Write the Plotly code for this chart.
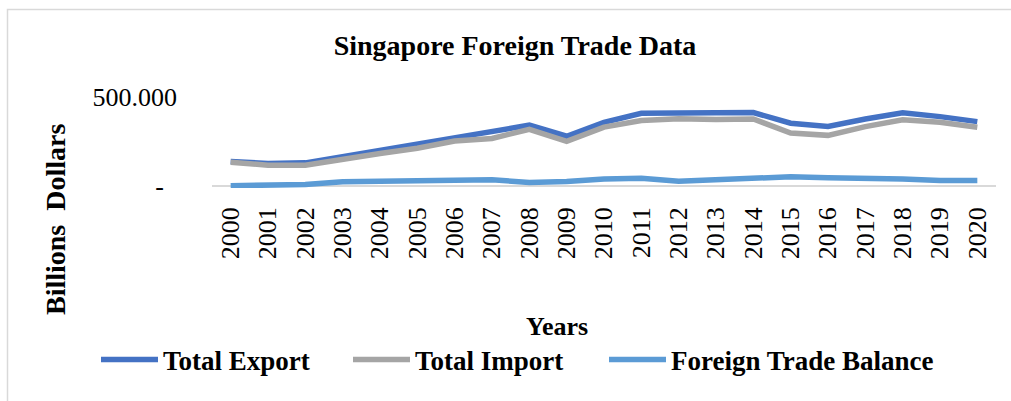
import plotly.graph_objects as go

years = [str(y) for y in range(2000, 2021)]
total_export = [139, 127, 131, 166, 205, 236, 277, 307, 342, 280, 358, 409, 409, 410, 413, 353, 335, 377, 411, 390, 362]
total_import = [134, 118, 118, 147, 183, 213, 253, 268, 319, 251, 331, 368, 378, 374, 377, 298, 285, 334, 372, 359, 331]
trade_balance = [3, 5, 9, 25, 27, 31, 33, 36, 21, 26, 41, 45, 28, 37, 39, 53, 47, 45, 41, 32, 32]

y_tickvals = [0, 500]
y_ticktext = ["-\u00a0\u00a0", "500.000"]

W, H = 1011, 401
L, R, T, B = 212, 15, 97, 213

fig = go.Figure()
series = [
    ("<b>Total Export</b>", total_export, "#4472C4", 180),
    ("<b>Total Import</b>", total_import, "#A5A5A5", 184),
    ("<b>Foreign Trade Balance</b>", trade_balance, "#5B9BD5", None),
]
for name, vals, col, lw in series:
    tr = go.Scatter(x=years, y=vals, name=name, mode="lines",
                    line=dict(color=col, width=5.5))
    if lw:
        tr.legendwidth = lw
    fig.add_trace(tr)

serif = "Liberation Serif"

def px_to_paper_x(px):
    return (px - L) / (W - L - R)

def px_to_paper_y(py):
    return (H - B - py) / (H - T - B)

fig.update_layout(
    width=W, height=H,
    margin=dict(l=L, r=R, t=T, b=B, autoexpand=False),
    paper_bgcolor="white", plot_bgcolor="white",
    font=dict(family=serif, size=26, color="black"),
    title=dict(text="<b>Singapore Foreign Trade Data</b>",
               xref="container", yref="container",
               x=515 / W, y=1 - 45 / H, xanchor="center", yanchor="middle",
               font=dict(family=serif, size=28, color="black")),
    showlegend=True,
    legend=dict(orientation="h", xref="paper", yref="paper",
                x=px_to_paper_x(96), y=px_to_paper_y(360),
                xanchor="left", yanchor="middle",
                font=dict(family=serif, size=27, color="black"),
                itemwidth=57,
                bgcolor="rgba(0,0,0,0)", tracegroupgap=0),
    xaxis=dict(type="category", range=[-0.5, 20.5], showgrid=False,
               showline=False, zeroline=False, ticks="",
               tickangle=-90, tickfont=dict(family=serif, size=26),
               ticklabelstandoff=13, fixedrange=True),
    yaxis=dict(range=[-10, 500], tickvals=y_tickvals, ticktext=y_ticktext,
               showgrid=True, gridcolor="#D9D9D9", gridwidth=1.5,
               zeroline=False, showline=False, ticks="",
               ticklabelstandoff=34, tickfont=dict(family=serif, size=26),
               fixedrange=True),
    annotations=[
        dict(text="<b>Billions  Dollars</b>", xref="paper", yref="paper",
             x=px_to_paper_x(55), y=px_to_paper_y(220), textangle=-90,
             showarrow=False, xanchor="center", yanchor="middle",
             font=dict(family=serif, size=28, color="black")),
        dict(text="<b>Years</b>", xref="paper", yref="paper",
             x=px_to_paper_x(557), y=px_to_paper_y(326),
             showarrow=False, xanchor="center", yanchor="middle",
             font=dict(family=serif, size=26, color="black")),
    ],
    shapes=[dict(type="rect", xref="paper", yref="paper",
                 x0=px_to_paper_x(7.5), x1=px_to_paper_x(1030),
                 y0=px_to_paper_y(420), y1=px_to_paper_y(9.5),
                 line=dict(color="#D9D9D9", width=1.5), layer="below")],
)

fig.write_html("out.html", config={"displayModeBar": False},
               post_script="document.body.style.margin='0px';document.body.style.overflow='hidden';")
